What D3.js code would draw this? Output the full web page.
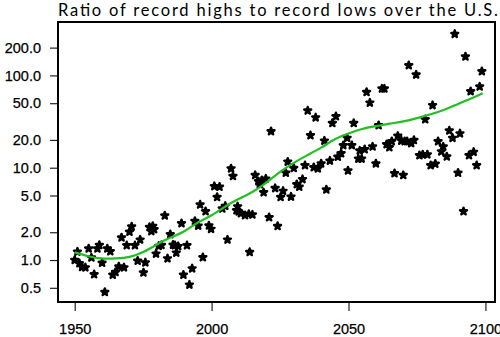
<!DOCTYPE html>
<html>
<head>
<meta charset="utf-8">
<script src="https://cdn.jsdelivr.net/npm/d3@7"></script>
<style>
  html, body { margin: 0; padding: 0; background: #fff; }
  svg { display: block; }
</style>
</head>
<body>
<svg id="chart" width="500" height="337"></svg>
<script>
// Yearly ratio of record daily highs to record daily lows
const years = [
  1950.0, 1951.0, 1951.7, 1952.7, 1953.9, 1955.1, 1956.1, 1957.1, 1958.3, 1959.0,
  1960.0, 1961.0, 1961.9, 1963.0, 1963.9, 1964.9, 1966.1, 1967.1, 1968.0, 1969.0,
  1970.0, 1970.8, 1972.0, 1973.0, 1973.9, 1975.1, 1975.8, 1977.3, 1978.0, 1978.5,
  1979.0, 1979.7, 1980.7, 1981.7, 1982.9, 1983.9, 1984.9, 1985.9, 1986.6, 1987.1,
  1987.8, 1989.0, 1989.7, 1991.0, 1991.9, 1992.9, 1993.9, 1995.1, 1995.8, 1996.8,
  1997.8, 1999.0, 1999.8, 2001.0, 2002.0, 2002.9, 2003.9, 2005.0, 2005.8, 2007.1,
  2007.8, 2009.1, 2009.5, 2009.9, 2010.7, 2012.2, 2013.6, 2013.9, 2014.9, 2015.9,
  2017.1, 2017.6, 2018.3, 2019.0, 2019.8, 2021.0, 2021.7, 2023.2, 2024.1, 2025.2,
  2026.1, 2027.1, 2027.8, 2029.0, 2030.0, 2031.1, 2032.0, 2033.2, 2034.1, 2035.1,
  2036.1, 2037.3, 2038.0, 2038.8, 2040.0, 2041.2, 2041.9, 2043.2, 2044.1, 2045.4,
  2046.1, 2047.3, 2048.1, 2049.5, 2049.8, 2051.2, 2051.9, 2053.6, 2054.1, 2054.8,
  2055.9, 2056.6, 2057.8, 2058.8, 2060.0, 2061.0, 2062.2, 2063.1, 2063.9, 2064.9,
  2065.8, 2066.8, 2068.0, 2069.3, 2070.0, 2070.5, 2071.4, 2072.0, 2072.9, 2073.9,
  2074.7, 2075.9, 2077.1, 2078.0, 2078.8, 2080.0, 2080.7, 2081.7, 2082.7, 2083.9,
  2084.6, 2085.9, 2086.8, 2088.0, 2088.8, 2090.0, 2090.7, 2092.0, 2092.7, 2094.0,
  2094.6, 2095.7, 2096.8, 2097.9, 2098.7
];
const ratios = [
  1.00, 1.23, 0.92, 0.84, 0.83, 1.33, 1.06, 0.70, 1.33, 1.45,
  0.93, 0.45, 1.33, 1.24, 0.69, 0.74, 0.85, 1.75, 0.83, 1.44,
  2.02, 2.30, 1.44, 0.98, 1.66, 0.73, 0.94, 2.27, 2.05, 2.33,
  2.15, 1.17, 1.42, 1.45, 3.03, 1.04, 1.90, 1.46, 1.44, 1.20,
  1.41, 2.50, 0.69, 1.44, 0.54, 0.81, 2.64, 2.35, 3.98, 1.07,
  3.37, 2.36, 2.17, 6.3, 4.8, 6.2, 3.6, 3.85, 1.66, 9.8,
  8.1, 3.45, 3.8, 3.35, 3.2, 3.05, 3.15, 1.22, 3.1, 8.3,
  7.1, 6.6, 7.3, 5.4, 7.6, 2.9, 24.8, 6.0, 2.33, 4.8,
  5.6, 8.8, 11.6, 4.85, 9.9, 6.6, 6.2, 7.5, 10.6, 41.5,
  22.4, 10.1, 35, 9.8, 11.1, 19.6, 5.8, 11.9, 30.4, 36,
  13.1, 14.3, 17.5, 21, 9.3, 17.5, 30.4, 12.5, 15.3, 12.5,
  15.8, 66, 50.6, 16.9, 11.1, 28.8, 71.8, 71.8, 17.9, 16.6,
  19.3, 8.7, 22.1, 19.6, 8.3, 19.3, 19.3, 128.6, 18.4, 19.9,
  101.8, 13.6, 13.9, 33.4, 13.9, 10.6, 47.5, 11.0, 19.3, 15.0,
  16.9, 13.2, 25.2, 21, 281, 8.8, 23.5, 3.37, 160, 13.6,
  67.3, 14.8, 10.6, 75.5, 110.7
];

// Smoothed trend of the ratio
const trendYears = [
  1950, 1955, 1960, 1965, 1970, 1975, 1980, 1985, 1990, 1995,
  2000, 2005, 2010, 2015, 2020, 2025, 2030, 2035, 2040, 2045,
  2050, 2055, 2060, 2065, 2070, 2075, 2080, 2085, 2090, 2095, 2099
];
const trendValues = [
  1.21, 1.10, 1.04, 1.04, 1.08, 1.22, 1.47, 1.75, 2.05, 2.55,
  3.05, 3.8, 4.6, 5.5, 6.9, 9.0, 11.3, 13.7, 16.5, 20.3,
  23.5, 26.3, 28.2, 30.0, 31.8, 34.5, 38.0, 42.5, 49.0, 56.5, 64.0
];

const yTicks = [0.5, 1, 2, 5, 10, 20, 50, 100, 200];
const xTicks = [1950, 2000, 2050, 2100];
const title = "Ratio of record highs to record lows over the U.S.";

const plotLeft = 58, plotRight = 495, plotTop = 22, plotBottom = 302;

const svg = d3.select("#chart");

const x = d3.scaleLinear().domain([1943.9, 2103.5]).range([plotLeft, plotRight]);
const y = d3.scaleLog().domain([0.351, 379]).range([plotBottom, plotTop]);

// Title
svg.append("text")
  .attr("x", 58)
  .attr("y", 15.5)
  .attr("textLength", 440)
  .attr("lengthAdjust", "spacing")
  .style("font-family", "Lato, 'Open Sans', sans-serif")
  .style("font-size", "16.5px")
  .attr("fill", "#000")
  .text(title);

// Axes
const axisFont = "'Liberation Sans', Arial, sans-serif";

const yAxis = svg.append("g")
  .attr("transform", `translate(${plotLeft},0)`)
  .call(d3.axisLeft(y).tickValues(yTicks).tickFormat(d3.format(".1f")).tickSize(8).tickPadding(9));
yAxis.select(".domain").remove();

const xAxis = svg.append("g")
  .attr("transform", `translate(0,${plotBottom})`)
  .call(d3.axisBottom(x).tickValues(xTicks).tickFormat(d3.format("d")).tickSize(9).tickPadding(13));
xAxis.select(".domain").remove();

svg.selectAll(".tick line").attr("stroke", "#222").attr("stroke-width", 1.2);
svg.selectAll(".tick text")
  .style("font-family", axisFont)
  .style("font-size", "14.5px")
  .attr("fill", "#000")
  .attr("stroke", "#000")
  .attr("stroke-width", 0.25);

// Scatter of yearly ratios: small rounded star blobs
const pts = years.map((yr, i) => ({ yr, v: ratios[i] }));
svg.append("g")
  .selectAll("path")
  .data(pts)
  .join("path")
  .attr("transform", d => `translate(${x(d.yr)},${y(d.v)})`)
  .attr("d", d3.symbol(d3.symbolStar, 15))
  .attr("fill", "#000")
  .attr("stroke", "#000")
  .attr("stroke-width", 2.4)
  .attr("stroke-linejoin", "round");

// Trend line
const trend = trendYears.map((yr, i) => ({ yr, v: trendValues[i] }));
svg.append("path")
  .datum(trend)
  .attr("fill", "none")
  .attr("stroke", "#22bf22")
  .attr("stroke-width", 2.2)
  .attr("d", d3.line().x(d => x(d.yr)).y(d => y(d.v)).curve(d3.curveNatural));

// Plot frame
svg.append("rect")
  .attr("x", plotLeft)
  .attr("y", plotTop)
  .attr("width", plotRight - plotLeft)
  .attr("height", plotBottom - plotTop)
  .attr("fill", "none")
  .attr("stroke", "#000")
  .attr("stroke-width", 2);
</script>
</body>
</html>
